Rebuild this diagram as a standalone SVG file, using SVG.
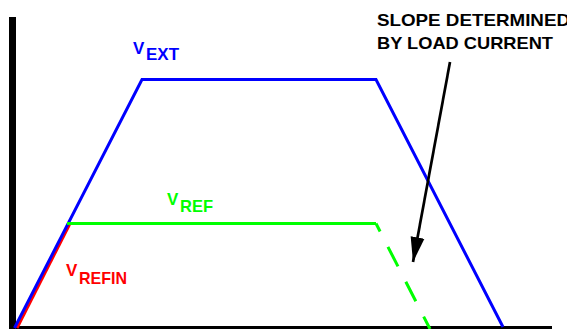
<svg xmlns="http://www.w3.org/2000/svg" width="567" height="329" viewBox="0 0 567 329">
<defs>
<style>
.lbl{font-family:"Liberation Sans",Arial,sans-serif;font-weight:bold;font-size:17px}
.note{font-family:"Liberation Sans",Arial,sans-serif;font-weight:bold;font-size:17px;fill:#000}
.tr{fill:none;stroke-width:3;stroke-linejoin:miter}
</style>
<marker id="ah" markerUnits="userSpaceOnUse" markerWidth="26" markerHeight="16" refX="25" refY="7" orient="auto" viewBox="0 0 26 14">
<path d="M0,0 L25,7 L0,14 Z" fill="#000"/>
</marker>
</defs>
<rect width="567" height="329" fill="#fff"/>
<g id="axes">
<rect x="9" y="17" width="7" height="312" fill="#000"/>
<rect x="9" y="326" width="543" height="3" fill="#000"/>
</g>
<g id="traces">
<polyline id="vrefin" class="tr" stroke="#FF0000" points="17,328 69.5,224.5"/>
<polyline id="vext" class="tr" stroke="#0000FF" points="14.5,328 142,79.5 376,79.5 503,327"/>
<line id="vref" class="tr" stroke="#00FF00" x1="67" y1="223.5" x2="376" y2="223.5"/>
<line id="vref-slope" class="tr" stroke="#00FF00" stroke-dasharray="22 17.2" stroke-dashoffset="13" x1="376" y1="223.5" x2="430" y2="329"/>
</g>
<g id="connectors">
<line x1="450" y1="62" x2="413" y2="262" stroke="#000" stroke-width="2.7" marker-end="url(#ah)"/>
</g>
<g id="label-vext" class="lbl" fill="#0000FF">
<text x="133" y="54">V</text>
<text x="146" y="60" textLength="33" lengthAdjust="spacingAndGlyphs">EXT</text>
</g>
<g id="label-vref" class="lbl" fill="#00FF00">
<text x="167" y="205">V</text>
<text x="180" y="211.5" textLength="33" lengthAdjust="spacingAndGlyphs">REF</text>
</g>
<g id="label-vrefin" class="lbl" fill="#FF0000">
<text x="66" y="276">V</text>
<text x="79" y="283.5" textLength="48" lengthAdjust="spacingAndGlyphs">REFIN</text>
</g>
<g id="annotation">
<text class="note" x="377" y="26" textLength="193" lengthAdjust="spacingAndGlyphs">SLOPE DETERMINED</text>
<text class="note" x="377" y="49" textLength="176" lengthAdjust="spacingAndGlyphs">BY LOAD CURRENT</text>
</g>
</svg>
